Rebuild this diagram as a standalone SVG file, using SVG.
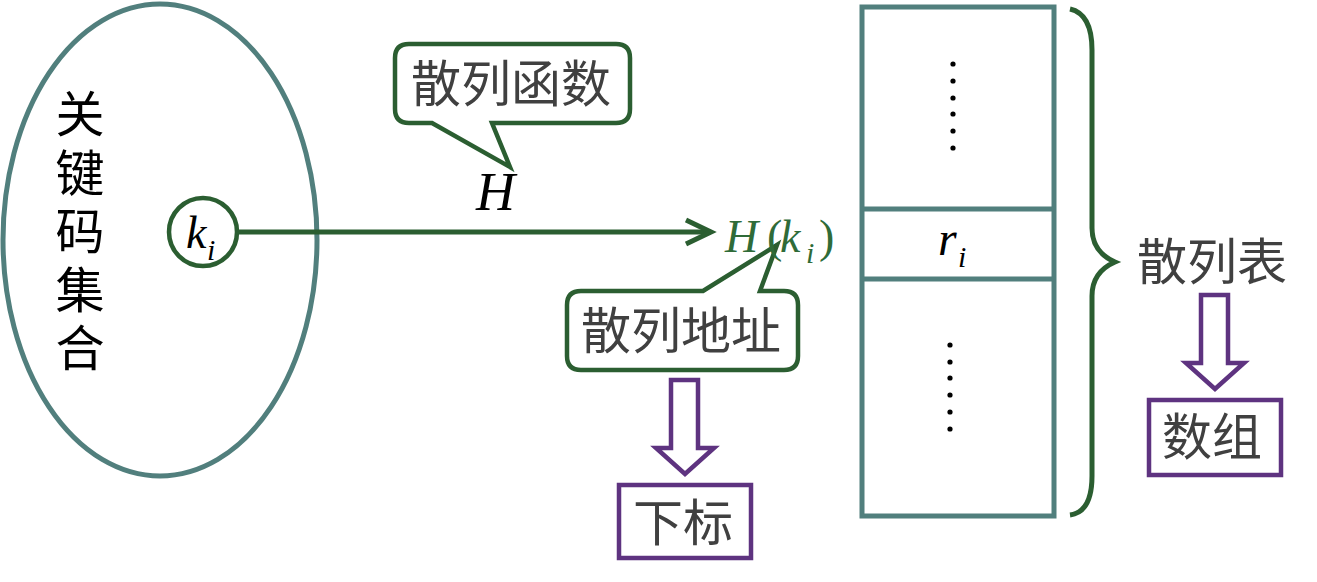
<svg xmlns="http://www.w3.org/2000/svg" width="1317" height="582" viewBox="0 0 1317 582">
<style>
.teal{fill:none;stroke:#517f7d;stroke-width:5}
.green{stroke:#2b5e31;stroke-width:4.5}
.purple{fill:#fff;stroke:#5e3380;stroke-width:4.5}
.cjk{font-family:"Noto Sans CJK SC","Noto Sans",sans-serif;font-size:50px;fill:#404040;text-anchor:middle}
.math{font-family:"Liberation Serif",serif;font-style:italic;fill:#000}
.dot{fill:#000}
</style>
<defs>
<marker id="arr" markerUnits="userSpaceOnUse" markerWidth="40" markerHeight="40" refX="30" refY="15" orient="auto" viewBox="0 0 40 30">
<polyline points="5,3 30,15 5,27" fill="none" stroke="#2b5e31" stroke-width="5" stroke-linejoin="miter"/>
</marker>
</defs>

<g id="keyset">
<ellipse cx="160" cy="240" rx="157" ry="236" class="teal"/>
<text x="80" y="89" writing-mode="vertical-rl" font-family="'Noto Sans CJK SC',sans-serif" font-size="49" letter-spacing="9.5" fill="#000">关键码集合</text>
</g>

<g id="ki">
<circle cx="203" cy="232" r="34" fill="#fff" class="green"/>
<text class="math" x="186" y="248" font-size="46">k</text>
<text class="math" x="207" y="260" font-size="30">i</text>
</g>

<g id="connectors">
<line x1="237" y1="232" x2="711" y2="232" stroke="#2b5e31" stroke-width="5" marker-end="url(#arr)"/>
<polygon class="purple" points="671,380 698,380 698,448 714,448 685,474 656,448 671,448"/>
<polygon class="purple" points="1201,295 1228,295 1228,363 1244,363 1215,389 1186,363 1201,363"/>
</g>

<g id="hashfunc">
<path d="M409 44 H616 Q630 44 630 58 V109 Q630 123 616 123 H492 L510 167 L432 123 H409 Q395 123 395 109 V58 Q395 44 409 44 Z" fill="#fff" class="green"/>
<text class="cjk" x="511" y="102">散列函数</text>
<text class="math" x="476" y="210" font-size="54">H</text>
</g>

<g id="hashaddr">
<path d="M581 291 H703 L777 245 L760 291 H784 Q798 291 798 305 V356 Q798 370 784 370 H581 Q567 370 567 356 V305 Q567 291 581 291 Z" fill="#fff" class="green"/>
<text class="cjk" x="681" y="349">散列地址</text>
<g font-family="'Liberation Serif',serif" fill="#2f6b38" font-size="46">
<text x="725" y="252" font-style="italic">H</text>
<text x="767" y="252">(</text>
<text x="780" y="252" font-style="italic">k</text>
<text x="806" y="263" font-style="italic" font-size="30">i</text>
<text x="819" y="252">)</text>
</g>
</g>

<g id="subscript">
<rect x="619" y="485" width="132" height="73" class="purple"/>
<text class="cjk" x="683" y="541">下标</text>
</g>

<g id="table">
<rect x="862" y="7" width="192" height="509" class="teal" stroke-width="6"/>
<line x1="862" y1="209" x2="1054" y2="209" class="teal"/>
<line x1="862" y1="279" x2="1054" y2="279" class="teal"/>
<g class="dot">
<circle cx="953" cy="64" r="2.6"/><circle cx="953" cy="81" r="2.6"/><circle cx="953" cy="98" r="2.6"/>
<circle cx="953" cy="114" r="2.6"/><circle cx="953" cy="131" r="2.6"/><circle cx="953" cy="148" r="2.6"/>
<circle cx="950" cy="345" r="2.6"/><circle cx="950" cy="362" r="2.6"/><circle cx="950" cy="378" r="2.6"/>
<circle cx="950" cy="395" r="2.6"/><circle cx="950" cy="412" r="2.6"/><circle cx="950" cy="429" r="2.6"/>
</g>
<text class="math" x="938" y="255" font-size="48">r</text>
<text class="math" x="958" y="267" font-size="30">i</text>
</g>

<g id="hashtable">
<path d="M1070 9 Q1092 14 1092 50 V228 Q1092 252 1115 262 Q1092 272 1092 296 V476 Q1092 512 1070 515" fill="none" stroke="#2b5e31" stroke-width="5"/>
<text class="cjk" x="1212" y="280">散列表</text>
</g>

<g id="array">
<rect x="1149" y="400" width="132" height="75" class="purple"/>
<text class="cjk" x="1212" y="455">数组</text>
</g>
</svg>
